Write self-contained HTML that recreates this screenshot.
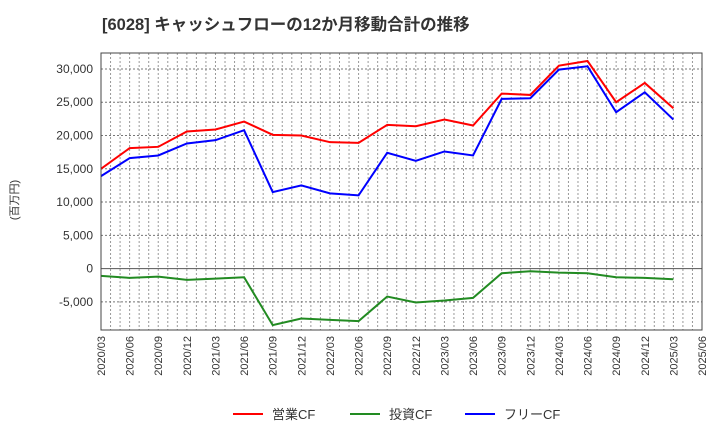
<!DOCTYPE html>
<html><head><meta charset="utf-8"><style>
body{margin:0;background:#fff;}
svg text{font-family:"Liberation Sans","Noto Sans CJK JP",sans-serif;}
</style></head><body>
<svg id="c" width="720" height="440" xmlns="http://www.w3.org/2000/svg">
<text x="102" y="30" font-size="16.5" font-weight="bold" fill="#333">[6028]  キャッシュフローの12か月移動合計の推移</text>
<text transform="translate(18,200) rotate(-90)" text-anchor="middle" font-size="11" fill="#333">(百万円)</text>
<g id="grid"></g><g id="series"></g><g id="axes"></g>
<g>
<line x1="233" y1="414" x2="263" y2="414" stroke="#f00" stroke-width="2"/>
<text x="272" y="419" font-size="13" fill="#333">営業CF</text>
<line x1="350" y1="414" x2="380" y2="414" stroke="#228b22" stroke-width="2"/>
<text x="389" y="419" font-size="13" fill="#333">投資CF</text>
<line x1="465" y1="414" x2="495" y2="414" stroke="#00f" stroke-width="2"/>
<text x="504" y="419" font-size="13" fill="#333">フリーCF</text>
</g>
</svg>
<script>
const xLabels=["2020/03","2020/06","2020/09","2020/12","2021/03","2021/06","2021/09","2021/12","2022/03","2022/06","2022/09","2022/12","2023/03","2023/06","2023/09","2023/12","2024/03","2024/06","2024/09","2024/12","2025/03","2025/06"];
const yTicks=[-5000,0,5000,10000,15000,20000,25000,30000];
const operatingCF=[15000,18100,18300,20600,20900,22100,20100,20000,19000,18900,21600,21400,22400,21500,26300,26100,30500,31200,25000,27900,24100];
const investingCF=[-1100,-1400,-1200,-1700,-1500,-1300,-8500,-7500,-7700,-7900,-4200,-5100,-4800,-4400,-700,-400,-600,-700,-1300,-1400,-1600];
const freeCF=[13900,16600,17000,18800,19300,20800,11500,12500,11300,11000,17400,16200,17600,17000,25500,25600,29900,30400,23500,26500,22400];
const L=101,R=702,T=53,B=330,yMin=-9230,yMax=32400;
const NS="http://www.w3.org/2000/svg";
const x=i=>L+(R-L)*i/(xLabels.length-1);
const y=v=>B-(v-yMin)/(yMax-yMin)*(B-T);
function mk(t,a,p){const e=document.createElementNS(NS,t);for(const k in a)e.setAttribute(k,a[k]);p.appendChild(e);return e;}
const grid=document.getElementById('grid'),axes=document.getElementById('axes'),ser=document.getElementById('series');
mk('rect',{x:L,y:T,width:R-L,height:B-T,fill:'#fff'},grid);
for(let m=1;m<(xLabels.length-1)*3;m++){const xx=L+(R-L)*m/((xLabels.length-1)*3);
const g=mk('line',{x1:xx,x2:xx,y1:T,y2:B,stroke:'#999','stroke-width':1,'stroke-dasharray':'2,2'},grid);

}
yTicks.forEach(v=>{const yy=y(v);
const g=mk('line',{x1:L,x2:R,y1:yy,y2:yy,stroke:v===0?'#555':'#777','stroke-width':1,'stroke-dasharray':v===0?'':'2,2'},grid);


const t=mk('text',{x:L-8,y:yy+4,'text-anchor':'end','font-size':12,fill:'#333'},axes);t.textContent=v.toLocaleString('en-US');

});
xLabels.forEach((s,i)=>{const t=mk('text',{transform:`translate(${x(i)+4},336) rotate(-90)`,'text-anchor':'end','font-size':11,fill:'#333'},axes);t.textContent=s;

});
const fr=mk('rect',{x:L,y:T,width:R-L,height:B-T,fill:'none',stroke:'#444','stroke-width':1},axes);


[[operatingCF,'#f00','operating-cf-line'],[investingCF,'#228b22','investing-cf-line'],[freeCF,'#00f','free-cf-line']].forEach(([d,c,n])=>{
const p=mk('polyline',{points:d.map((v,i)=>x(i)+','+y(v)).join(' '),fill:'none',stroke:c,'stroke-width':2},ser);

});
</script>
</body></html>
